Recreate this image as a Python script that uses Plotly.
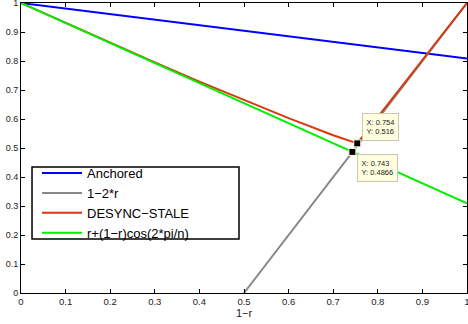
import plotly.graph_objects as go

# ---- data ----
anchored_x = [0.0, 1.0]
anchored_y = [1.0, 0.809]

gray_x = [0.5, 1.0]
gray_y = [0.0, 1.0]

desync_x = [0.0, 0.1, 0.2, 0.3, 0.4, 0.5, 0.6, 0.7, 0.754, 1.0]
desync_y = [1.0, 0.931, 0.862, 0.795, 0.729, 0.665, 0.603, 0.544, 0.516, 1.0]

green_x = [0.0, 1.0]
green_y = [1.0, 0.309]

tip_x = [0.754, 0.743]
tip_y = [0.516, 0.4866]
tip_labels = ["X: 0.754<br>Y: 0.516", "X: 0.743<br>Y: 0.4866"]

x_ticks = [0, 0.1, 0.2, 0.3, 0.4, 0.5, 0.6, 0.7, 0.8, 0.9, 1]
x_ticklabels = ["0", "0.1", "0.2", "0.3", "0.4", "0.5", "0.6", "0.7", "0.8", "0.9", "1"]
y_ticks = [0, 0.1, 0.2, 0.3, 0.4, 0.5, 0.6, 0.7, 0.8, 0.9, 1]
y_ticklabels = ["0", "0.1", "0.2", "0.3", "0.4", "0.5", "0.6", "0.7", "0.8", "0.9", "1"]

FONT = "Liberation Sans, Arial, Helvetica, sans-serif"

fig = go.Figure()
fig.add_trace(go.Scatter(x=anchored_x, y=anchored_y, mode="lines", name="Anchored",
                         line=dict(color="#0000ff", width=2)))
fig.add_trace(go.Scatter(x=gray_x, y=gray_y, mode="lines", name="1−2*r",
                         line=dict(color="#888888", width=2)))
fig.add_trace(go.Scatter(x=desync_x, y=desync_y, mode="lines", name="DESYNC−STALE",
                         line=dict(color="#d8380f", width=2)))
fig.add_trace(go.Scatter(x=green_x, y=green_y, mode="lines", name="r+(1−r)cos(2*pi/n)",
                         line=dict(color="#00ee00", width=2)))
fig.add_trace(go.Scatter(x=tip_x, y=tip_y, mode="markers", showlegend=False,
                         marker=dict(symbol="square", size=7, color="black",
                                     line=dict(color="#ffffe0", width=1))))

offsets = [(0.0106, 0.105), (0.011, -0.0073)]
for (tx, ty), lab, (dx, dy) in zip(zip(tip_x, tip_y), tip_labels, offsets):
    fig.add_annotation(x=tx + dx, y=ty + dy, xref="x", yref="y", text=lab,
                       showarrow=False, xanchor="left", yanchor="top", align="left",
                       bgcolor="#ffffe0", bordercolor="#c8c8b0", borderwidth=1, borderpad=3.5,
                       font=dict(family=FONT, size=7.5, color="#222222"))

axis_common = dict(range=[0, 1], showline=True, linecolor="black", linewidth=1,
                   mirror="ticks", ticks="inside", ticklen=4, tickcolor="black",
                   showgrid=False, zeroline=False, automargin=False,
                   ticklabeloverflow="allow")

fig.update_xaxes(tickvals=x_ticks, ticktext=x_ticklabels,
                 tickfont=dict(family=FONT, size=9.5, color="#222222"),
                 title=dict(text="1−r", font=dict(family=FONT, size=11, color="#222222"), standoff=0),
                 **axis_common)
fig.update_yaxes(tickvals=y_ticks, ticktext=y_ticklabels,
                 tickfont=dict(family=FONT, size=9, color="#222222"),
                 **axis_common)

# legend frame (MATLAB-style box)
fig.add_shape(type="rect", xref="paper", yref="paper",
              x0=0.0247, x1=0.4888, y0=0.1862, y1=0.4345,
              line=dict(color="black", width=1.5), fillcolor="white", layer="above")

fig.update_layout(
    width=468, height=324,
    margin=dict(l=21, r=1, t=3, b=31),
    plot_bgcolor="white", paper_bgcolor="white",
    legend=dict(x=0.0359, y=0.310, xanchor="left", yanchor="middle",
                bgcolor="rgba(0,0,0,0)", borderwidth=0,
                font=dict(family=FONT, size=13, color="black"),
                tracegroupgap=0, itemwidth=40),
)

fig.write_html("out.html", config={"displayModeBar": False},
               post_script="document.body.style.margin='0';document.body.style.padding='0';")
